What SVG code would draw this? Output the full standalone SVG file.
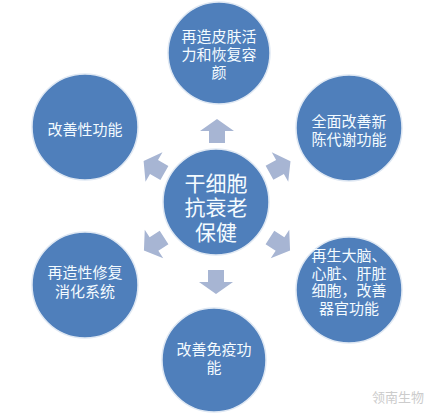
<svg xmlns="http://www.w3.org/2000/svg" width="434" height="414" viewBox="0 0 434 414">
<defs>
<style>
.c{fill:#4f7fbb;stroke:#dfe8f3;stroke-width:1.5}
.t{font-family:"Liberation Sans","Noto Sans CJK SC",sans-serif;fill:#f4fbff;font-size:15px;text-anchor:middle}
.big{font-size:21px}
.a{fill:#a7b5d3}
.w{font-family:"Liberation Sans","Noto Sans CJK SC",sans-serif;fill:#cccccc;font-size:13px}
</style>
<path id="arr" d="M-8,12 L8,12 L8,0 L17,0 L0,-12 L-17,0 L-8,0 Z"/>
</defs>
<rect width="434" height="414" fill="#ffffff"/>
<g id="connectors">
<use href="#arr" class="a" transform="translate(217,131)"/>
<use href="#arr" class="a" transform="translate(280,167) rotate(61)"/>
<use href="#arr" class="a" transform="translate(154,167) rotate(-60)"/>
<use href="#arr" class="a" transform="translate(280,244) rotate(123)"/>
<use href="#arr" class="a" transform="translate(154,244) rotate(-123)"/>
<use href="#arr" class="a" transform="translate(216,282) rotate(180)"/>
</g>
<g id="center">
<circle class="c" cx="216" cy="202" r="53"/>
<text class="t big" x="216" y="191"><tspan x="216">干细胞</tspan><tspan x="216" dy="24">抗衰老</tspan><tspan x="216" dy="25">保健</tspan></text>
</g>
<g id="top">
<circle class="c" cx="219" cy="53" r="51"/>
<text class="t" x="219" y="42"><tspan x="219">再造皮肤活</tspan><tspan x="219" dy="18">力和恢复容</tspan><tspan x="219" dy="18">颜</tspan></text>
</g>
<g id="right-top">
<circle class="c" cx="349" cy="128" r="53"/>
<text class="t" x="349" y="127"><tspan x="349">全面改善新</tspan><tspan x="349" dy="18">陈代谢功能</tspan></text>
</g>
<g id="right-bottom">
<circle class="c" cx="349" cy="290" r="53"/>
<text class="t" x="349" y="261"><tspan x="349">再生大脑、</tspan><tspan x="349" dy="17.5">心脏、肝脏</tspan><tspan x="349" dy="17.5">细胞，改善</tspan><tspan x="349" dy="17.5">器官功能</tspan></text>
</g>
<g id="bottom">
<circle class="c" cx="214" cy="360" r="52"/>
<text class="t" x="214" y="355"><tspan x="214">改善免疫功</tspan><tspan x="214" dy="18">能</tspan></text>
</g>
<g id="left-bottom">
<circle class="c" cx="85" cy="285" r="53"/>
<text class="t" x="85" y="278"><tspan x="85">再造性修复</tspan><tspan x="85" dy="19">消化系统</tspan></text>
</g>
<g id="left-top">
<circle class="c" cx="85" cy="127" r="53"/>
<text class="t" x="85" y="135">改善性功能</text>
</g>
<text class="w" x="372" y="402">领南生物</text>
</svg>
